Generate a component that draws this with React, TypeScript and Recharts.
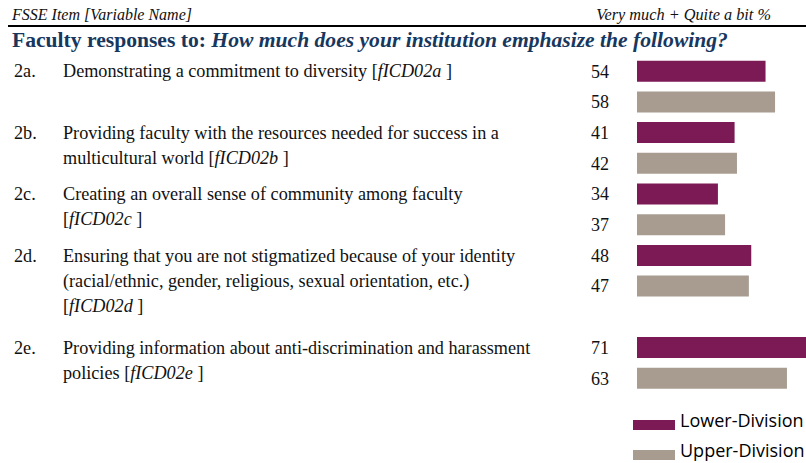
import React from 'react';
import { BarChart, Bar, XAxis, YAxis, Cell, LabelList } from 'recharts';

const itemCodes = ['2a.', '2b.', '2c.', '2d.', '2e.'];
const itemLines = [
  ['Demonstrating a commitment to diversity'],
  ['Providing faculty with the resources needed for success in a', 'multicultural world'],
  ['Creating an overall sense of community among faculty', ''],
  ['Ensuring that you are not stigmatized because of your identity', '(racial/ethnic, gender, religious, sexual orientation, etc.)', ''],
  ['Providing information about anti-discrimination and harassment', 'policies'],
];
const variableNames = ['fICD02a', 'fICD02b', 'fICD02c', 'fICD02d', 'fICD02e'];
const lowerDivision = [54, 41, 34, 48, 71];
const upperDivision = [58, 42, 37, 47, 63];
const seriesNames = ['Lower-Division', 'Upper-Division'];
const gapAfter = 3; // blank row before 2e

const COLORS = ['#7B1A55', '#A89C91'];
const SERIF = '"Liberation Serif", "Times New Roman", serif';
const LINE_GAP = 25;

type Row = { key: string; value: number | null; series: number; item: number; first: boolean };

const rows: Row[] = [];
itemCodes.forEach((code, i) => {
  rows.push({ key: code + 'L', value: lowerDivision[i], series: 0, item: i, first: true });
  rows.push({ key: code + 'U', value: upperDivision[i], series: 1, item: i, first: false });
  if (i === gapAfter) rows.push({ key: 'gap', value: null, series: 0, item: -1, first: false });
});

const ItemTick = (props: any) => {
  const { y, payload } = props;
  const row = rows.find((r) => r.key === payload.value);
  if (!row || !row.first) return null;
  const i = row.item;
  const lines = itemLines[i];
  return (
    <g fontFamily={SERIF} fontSize={18.2} fill="#111">
      <text x={14} y={y} dy="0.35em">{itemCodes[i]}</text>
      {lines.map((line, j) => {
        const last = j === lines.length - 1;
        return (
          <text key={j} x={63} y={y + j * LINE_GAP} dy="0.35em">
            {last ? (
              <>
                {line}{line ? ' ' : ''}[<tspan fontStyle="italic">{variableNames[i]}</tspan> ]
              </>
            ) : line}
          </text>
        );
      })}
    </g>
  );
};

const ValueLabel = (props: any) => {
  const { x, y, height, value } = props;
  if (value == null) return null;
  return (
    <text x={x - 28} y={y + height / 2} dy="0.35em" textAnchor="end" fontFamily={SERIF} fontSize={18} fill="#111">
      {value}
    </text>
  );
};

export default function App() {
  return (
    <div style={{ position: 'absolute', left: 0, top: 0, width: 806, height: 463, overflow: 'hidden', background: '#fff' }}>
      <svg width={806} height={463} style={{ position: 'absolute', left: 0, top: 0 }}>
        <text x={12} y={20} fontFamily={SERIF} fontStyle="italic" fontSize={16} fill="#111">FSSE Item [Variable Name]</text>
        <text x={771} y={20} textAnchor="end" fontFamily={SERIF} fontStyle="italic" fontSize={16.3} fill="#111">Very much + Quite a bit %</text>
        <line x1={8} y1={26} x2={806} y2={26} stroke="#000" strokeWidth={2} />
        <text x={12} y={47} fontFamily={SERIF} fontWeight="bold" fontSize={21.6} fill="#17375E">
          Faculty responses to: <tspan fontStyle="italic">How much does your institution emphasize the following?</tspan>
        </text>
        {seriesNames.map((name, i) => (
          <g key={name}>
            <rect x={633} y={420 + i * 30} width={42} height={10} fill={COLORS[i]} />
            <text x={680} y={421 + i * 30} dy="0.35em" fontFamily='"Open Sans", sans-serif' fontSize={18} fill="#000">{name}</text>
          </g>
        ))}
      </svg>
      <div style={{ position: 'absolute', left: 0, top: 0 }}>
        <BarChart width={806} height={463} data={rows} layout="vertical" margin={{ top: 55.7, right: 0, bottom: 69.6, left: 0 }}>
          <XAxis type="number" domain={[0, 71]} hide />
          <YAxis type="category" dataKey="key" width={637} axisLine={false} tickLine={false} interval={0} tick={<ItemTick />} />
          <Bar dataKey="value" barSize={21} isAnimationActive={false}>
            {rows.map((r) => (
              <Cell key={r.key} fill={COLORS[r.series]} />
            ))}
            <LabelList dataKey="value" content={<ValueLabel />} />
          </Bar>
        </BarChart>
      </div>
    </div>
  );
}
